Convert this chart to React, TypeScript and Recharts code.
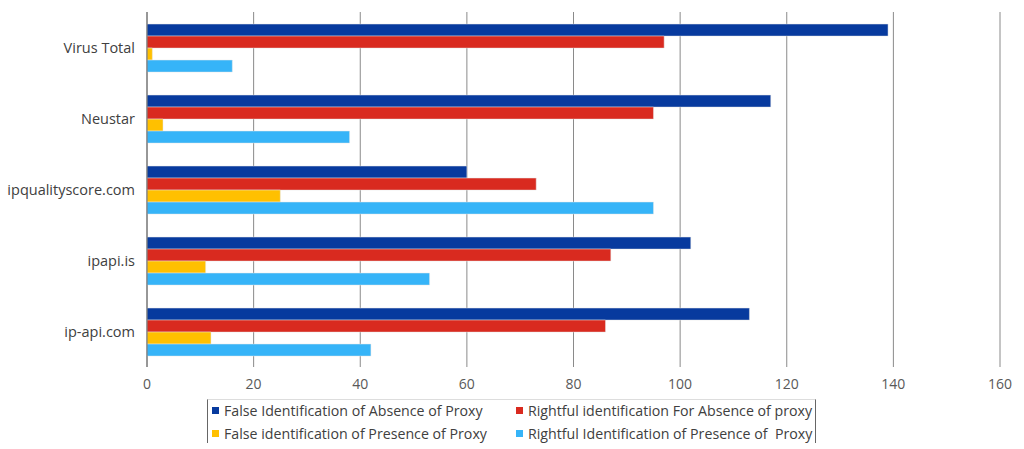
import React from "react";
import {
  BarChart,
  Bar,
  XAxis,
  YAxis,
  CartesianGrid,
  Legend,
} from "recharts";

const categories = ["Virus Total", "Neustar", "ipqualityscore.com", "ipapi.is", "ip-api.com"];

const falseAbsence = [139, 117, 60, 102, 113];
const rightfulAbsence = [97, 95, 73, 87, 86];
const falsePresence = [1, 3, 25, 11, 12];
const rightfulPresence = [16, 38, 95, 53, 42];

const xTicks = [0, 20, 40, 60, 80, 100, 120, 140, 160];

const SERIES = [
  { key: "falseAbsence", name: "False Identification of Absence of Proxy", color: "#073A9E" },
  { key: "rightfulAbsence", name: "Rightful identification For Absence of proxy", color: "#D92A1F" },
  { key: "falsePresence", name: "False identification of Presence of Proxy", color: "#FFC000" },
  { key: "rightfulPresence", name: "Rightful Identification of Presence of  Proxy", color: "#36B4F8" },
];

const FONT = "'Open Sans', 'DejaVu Sans', sans-serif";

const chartData = categories.map((c, i) => ({
  name: c,
  falseAbsence: falseAbsence[i],
  rightfulAbsence: rightfulAbsence[i],
  falsePresence: falsePresence[i],
  rightfulPresence: rightfulPresence[i],
}));

function LegendBox() {
  return (
    <div
      style={{
        width: 609,
        height: 44,
        borderLeft: "1px solid #666",
        borderRight: "1px solid #666",
        borderTop: "1px solid #ddd",
        boxSizing: "border-box",
        display: "grid",
        gridTemplateColumns: "304px 304px",
        alignContent: "center",
        rowGap: 4,
        fontFamily: FONT,
        fontSize: 14.2,
        color: "#404040",
      }}
    >
      {SERIES.map((s) => (
        <div key={s.key} style={{ display: "flex", alignItems: "center", paddingLeft: 4, whiteSpace: "pre" }}>
          <span style={{ display: "inline-block", width: 7, height: 7, background: s.color, marginRight: 5 }} />
          {s.name}
        </div>
      ))}
    </div>
  );
}

export default function App() {
  return (
    <div style={{ position: "absolute", left: 0, top: 0, width: 1024, height: 449, background: "#fff" }}>
      <BarChart
        width={1024}
        height={449}
        data={chartData}
        layout="vertical"
        margin={{ top: 12, right: 24, bottom: 6, left: 0 }}
        barCategoryGap="17%"
        barGap={0}
      >
        <CartesianGrid horizontal={false} stroke="#8a8a8a" strokeWidth={1} />
        <XAxis
          type="number"
          domain={[0, 160]}
          ticks={xTicks}
          axisLine={false}
          tickLine={false}
          height={32}
          tick={{ fill: "#595959", fontSize: 14, fontFamily: FONT }}
          dy={4}
        />
        <YAxis
          type="category"
          dataKey="name"
          width={147}
          axisLine={{ stroke: "#6a6a6a" }}
          tickLine={false}
          tick={{ fill: "#404040", fontSize: 14.5, fontFamily: FONT }}
          tickMargin={6}
        />
        <Legend
          verticalAlign="bottom"
          align="left"
          content={() => <LegendBox />}
          wrapperStyle={{ left: 207, width: 609 }}
        />
        {SERIES.map((s) => (
          <Bar
            key={s.key}
            dataKey={s.key}
            name={s.name}
            fill={s.color}
            stroke="#e6e6e6"
            strokeOpacity={0.6}
            strokeWidth={0.8}
            isAnimationActive={false}
          />
        ))}
      </BarChart>
    </div>
  );
}
